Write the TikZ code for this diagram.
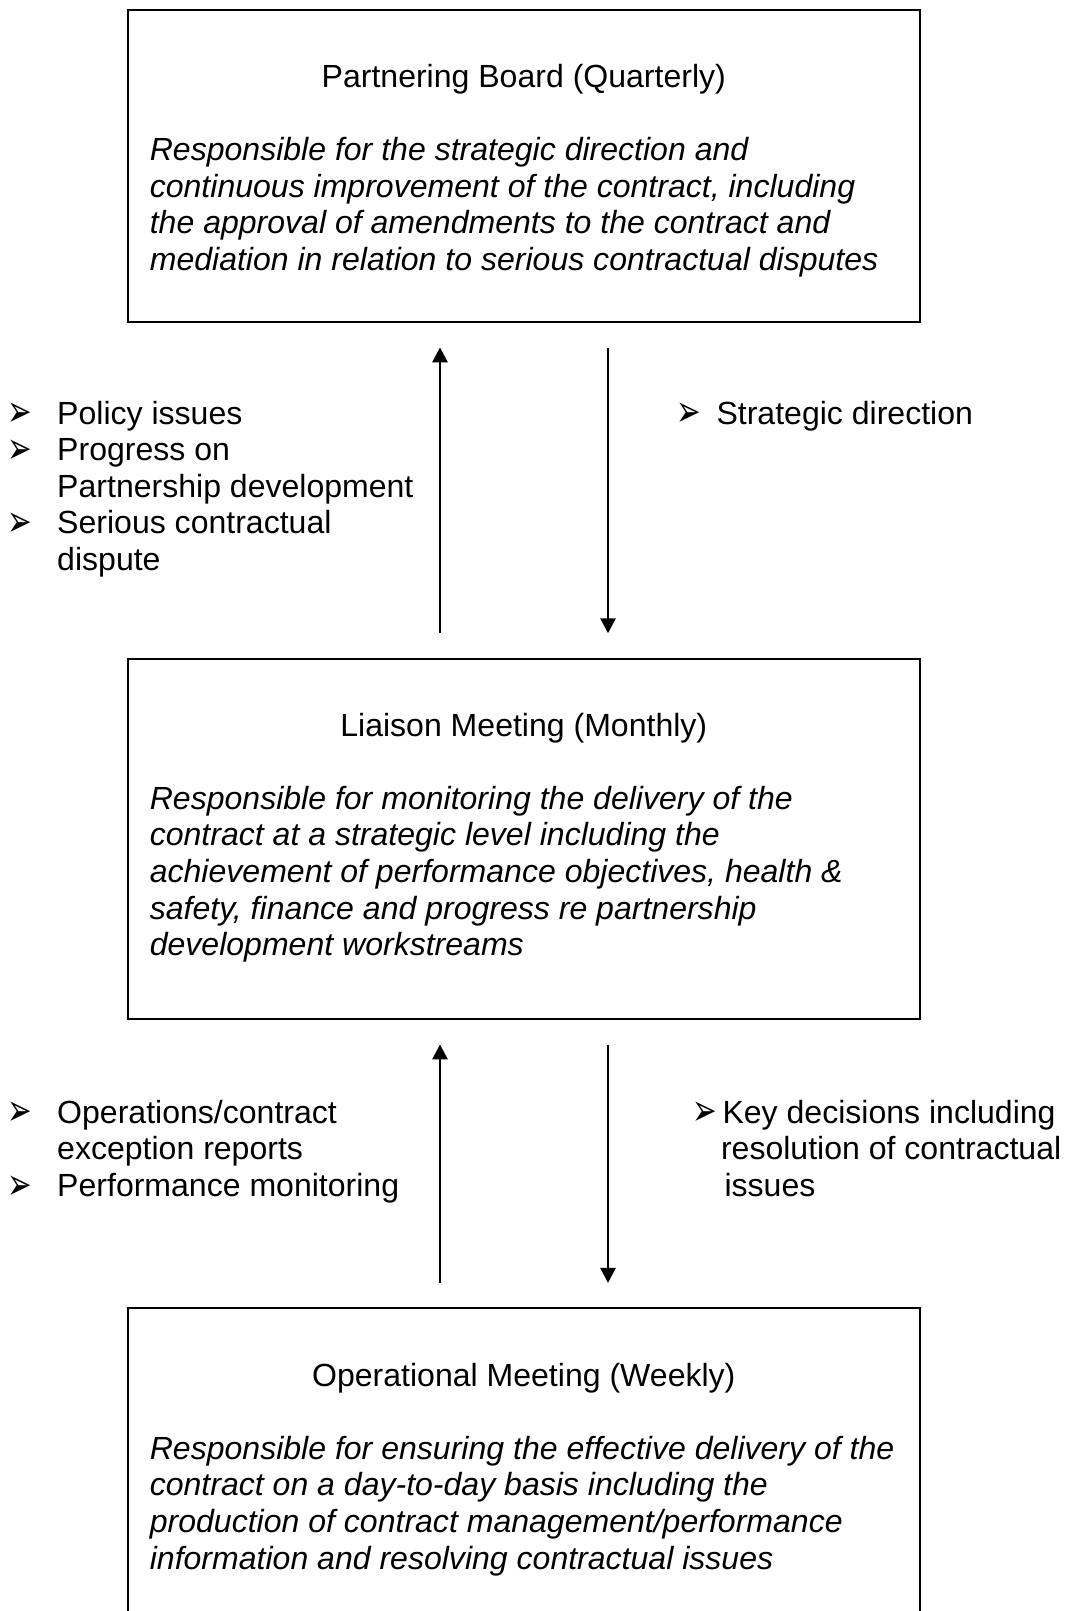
\documentclass[tikz,border=0pt]{standalone}
\usepackage{fontspec}
\setmainfont{Liberation Sans}
\newfontfamily\symfont{DejaVu Sans}
\usetikzlibrary{arrows.meta,fit}
\newcommand{\arrowbullet}{\scalebox{1}[1.5]{➢}}

\begin{document}
\begin{tikzpicture}[x=0.3745pt, y=-0.3745pt,
  panel/.style={draw, line width=0.7pt, inner sep=0pt},
  heading/.style={anchor=base, inner sep=0pt, font=\fontsize{12}{13.8}\selectfont},
  remit/.style={anchor=base west, inner sep=0pt, font=\fontsize{12}{13.8}\selectfont\itshape},
  note/.style={anchor=base west, inner sep=0pt, font=\fontsize{12}{13.8}\selectfont},
  pointer/.style={anchor=base east, inner sep=0pt, yshift=-1pt,
    text height=7pt, text depth=0pt, font=\symfont\fontsize{11}{11}\selectfont},
  flow/.style={line width=0.6pt, shorten <=9.2pt, shorten >=9.2pt,
    -{Triangle[length=5.6pt, width=5.8pt]}}]
\useasboundingbox (0,0) rectangle (1081,1611);
\clip (0,0) rectangle (1081,1611);

% --- Partnering board ---
\node[panel, fit={(127.7,10) (920,322)}] (board) {};
\node[heading] (boardhead) at (523.8,87.3) {Partnering Board (Quarterly)};
\foreach \t [count=\i from 0] in {
  {Responsible for the strategic direction and},
  {continuous improvement of the contract, including},
  {the approval of amendments to the contract and},
  {mediation in relation to serious contractual disputes}}
  \node[remit] (boardline\i) at (149.3,160.5+36.6*\i) {\t};

% --- Liaison meeting ---
\node[panel, fit={(127.7,658.7) (920,1019)}] (liaison) {};
\node[heading] (liaisonhead) at (523.8,736) {Liaison Meeting (Monthly)};
\foreach \t [count=\i from 0] in {
  {Responsible for monitoring the delivery of the},
  {contract at a strategic level including the},
  {achievement of performance objectives, health \&},
  {safety, finance and progress re partnership},
  {development workstreams}}
  \node[remit] (liaisonline\i) at (149.3,809.2+36.6*\i) {\t};

% --- Operational meeting (runs off the page) ---
\node[panel, fit={(127.7,1308.3) (920,1700)}] (ops) {};
\node[heading] (opshead) at (523.8,1386) {Operational Meeting (Weekly)};
\foreach \t [count=\i from 0] in {
  {Responsible for ensuring the effective delivery of the},
  {contract on a day-to-day basis including the},
  {production of contract management/performance},
  {information and resolving contractual issues}}
  \node[remit] (opsline\i) at (149.3,1459.3+36.6*\i) {\t};

% reporting lines
\coordinate (upline) at (440,0);
\coordinate (downline) at (608,0);
\draw[flow] (liaison.north -| upline) -- (board.south -| upline);
\draw[flow] (board.south -| downline) -- (liaison.north -| downline);
\draw[flow] (ops.north -| upline) -- (liaison.south -| upline);
\draw[flow] (liaison.south -| downline) -- (ops.north -| downline);

% --- upward items, board <-> liaison ---
\foreach \y [count=\i] in {424, 460.6, 533.8}
  \node[pointer] (uptick\i) at (33,\y) {\arrowbullet};
\foreach \y/\t [count=\i] in {424/Policy issues, 460.6/Progress on,
    497.2/Partnership development, 533.8/Serious contractual, 570.4/dispute}
  \node[note] (upnote\i) at (56.7,\y) {\t};
\node[pointer] (downtick) at (702,424) {\arrowbullet};
\node[note] (downnote) at (716,424) {Strategic direction};

% --- upward items, liaison <-> operational ---
\foreach \y [count=\i] in {1123.3, 1196.5}
  \node[pointer] (opstick\i) at (33,\y) {\arrowbullet};
\foreach \y/\t [count=\i] in {1123.3/{Operations/contract},
    1159.9/exception reports, 1196.5/Performance monitoring}
  \node[note] (opsnote\i) at (56.7,\y) {\t};
\node[pointer] (keytick) at (718,1123.3) {\arrowbullet};
\node[note] (keynote1) at (722,1123.3) {Key decisions including};
\node[note] (keynote2) at (720.5,1159.9) {resolution of contractual};
\node[note] (keynote3) at (724,1196.5) {issues};
\end{tikzpicture}
\end{document}
